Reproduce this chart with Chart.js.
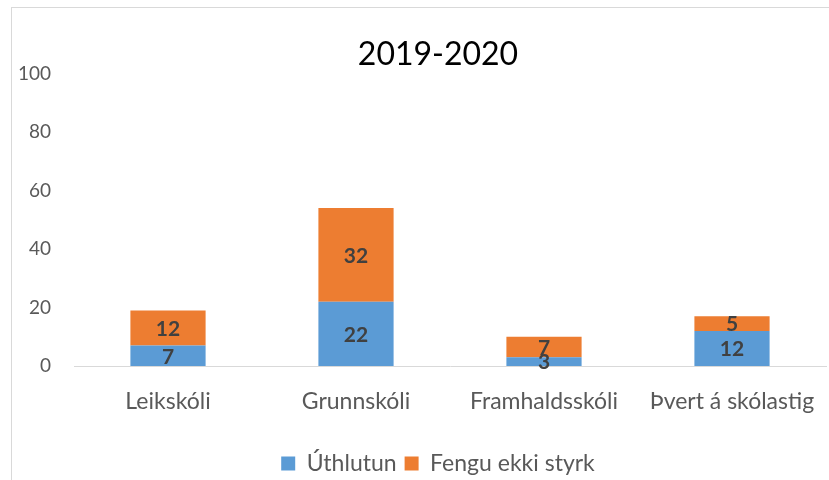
<!DOCTYPE html>
<html lang="is">
<head>
    <meta charset="UTF-8">
    <title>2019-2020</title>
    <style>
        html, body { margin: 0; padding: 0; overflow: hidden; background: #fff; }
        #frame {
            position: absolute; left: 11px; top: 7px; width: 900px; height: 600px;
            border-left: 1px solid #d9d9d9; border-top: 1px solid #d9d9d9;
        }
        #wrap { position: absolute; left: 0; top: 0; width: 876px; height: 480px; }
    </style>
</head>
<body>
    <div id="frame"></div>
    <!-- canvas is a bit wider than the window so title/legend centre on the chart frame -->
    <div id="wrap"><canvas id="barChart" width="876" height="480"></canvas></div>
    <script src="https://cdn.jsdelivr.net/npm/chart.js"></script>
    <script>
        // Data
        const categories = ['Leikskóli', 'Grunnskóli', 'Framhaldsskóli', 'Þvert á skólastig'];
        const uthlutun = [7, 22, 3, 12];
        const fenguEkki = [12, 32, 7, 5];
        const yTicks = [0, 20, 40, 60, 80, 100];

        // Simple value labels in the middle of each segment
        const segmentLabels = {
            id: 'segmentLabels',
            afterDatasetsDraw(chart) {
                const ctx = chart.ctx;
                ctx.save();
                ctx.font = 'bold 21px Lato';
                ctx.fillStyle = '#404040';
                ctx.textAlign = 'center';
                ctx.textBaseline = 'middle';
                chart.data.datasets.forEach((ds, i) => {
                    chart.getDatasetMeta(i).data.forEach((bar, j) => {
                        const y = (bar.y + bar.base) / 2;
                        ctx.fillText(ds.data[j], bar.x, y + 1);
                    });
                });
                ctx.restore();
            }
        };

        const ctx = document.getElementById('barChart').getContext('2d');
        new Chart(ctx, {
            type: 'bar',
            data: {
                labels: categories,
                datasets: [
                    { label: 'Úthlutun', data: uthlutun, backgroundColor: '#5B9BD5',
                      categoryPercentage: 0.4, barPercentage: 1 },
                    { label: 'Fengu ekki styrk', data: fenguEkki, backgroundColor: '#ED7D31',
                      categoryPercentage: 0.4, barPercentage: 1 }
                ]
            },
            options: {
                responsive: false,
                animation: false,
                layout: { padding: { left: 0, right: 0, top: 0, bottom: -5 } },
                plugins: {
                    title: {
                        display: true,
                        text: '2019-2020',
                        color: '#000',
                        font: { family: 'Lato', size: 32, weight: 'normal' },
                        padding: { top: 35, bottom: 0 }
                    },
                    legend: {
                        position: 'bottom',
                        labels: {
                            color: '#595959',
                            font: { family: 'Lato', size: 23 },
                            boxWidth: 14,
                            boxHeight: 14,
                            padding: 8
                        }
                    },
                    tooltip: { enabled: false }
                },
                scales: {
                    x: {
                        stacked: true,
                        // keep the plot edges fixed, labels may overhang
                        afterFit(scale) {
                            scale.paddingLeft = 0;
                            scale.paddingRight = 0;
                            scale.height = 78;
                        },
                        grid: { display: false, drawTicks: false },
                        border: { display: true, color: '#d9d9d9', width: 1 },
                        ticks: {
                            color: '#595959',
                            font: { family: 'Lato', size: 23 },
                            padding: 22,
                            maxRotation: 0
                        }
                    },
                    y: {
                        stacked: true,
                        min: 0,
                        max: 100,
                        afterFit(scale) { scale.width = 74; },
                        afterBuildTicks(scale) { scale.ticks = yTicks.map(v => ({ value: v })); },
                        grid: { display: false, drawTicks: false },
                        border: { display: false },
                        ticks: {
                            color: '#595959',
                            font: { family: 'Lato', size: 19 },
                            padding: 23
                        }
                    },
                    // empty right axis, only reserves space right of the plot
                    yRight: {
                        position: 'right',
                        min: 0,
                        max: 100,
                        afterFit(scale) { scale.width = 50; },
                        grid: { display: false, drawTicks: false },
                        border: { display: false },
                        ticks: { display: false }
                    }
                }
            },
            plugins: [segmentLabels]
        });
    </script>
</body>
</html>
